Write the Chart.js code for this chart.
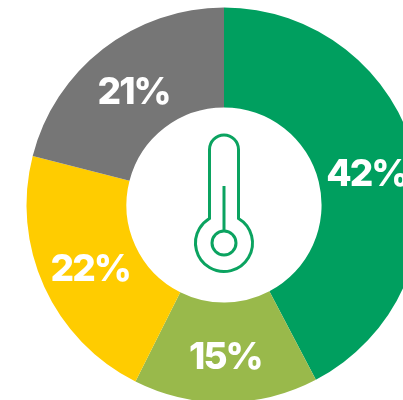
<!DOCTYPE html>
<html>
<head>
<meta charset="utf-8">
<style>
  html, body { margin: 0; padding: 0; background: #fff; overflow: hidden; }
  #wrap { width: 403px; height: 400px; overflow: hidden; }
</style>
</head>
<body>
<div id="wrap"><canvas id="donut" width="448" height="410"></canvas></div>
<script src="https://cdn.jsdelivr.net/npm/chart.js@4"></script>
<script>
const categories = ['A', 'B', 'C', 'D'];
// slice sizes, they round to the printed percents
const values = [42.3, 15.1, 21.6, 21];
const colors = ['#009F5F', '#99B94B', '#FFCC00', '#767676'];

// percent labels, nudged from the middle of each slice
const labelNudge = [[-0.5, 5], [0, 5], [0.5, 4], [0, 4.2]];

const percentLabels = {
    id: 'percentLabels',
    afterDatasetsDraw(chart) {
        const ctx = chart.ctx;
        const arcs = chart.getDatasetMeta(0).data;
        ctx.save();
        ctx.fillStyle = '#fff';
        ctx.font = '800 37px Inter';
        ctx.letterSpacing = '-2px';
        ctx.textAlign = 'center';
        ctx.textBaseline = 'middle';
        arcs.forEach((arc, i) => {
            const p = arc.getCenterPoint();
            ctx.fillText(Math.round(values[i]) + '%', p.x + labelNudge[i][0], p.y + labelNudge[i][1]);
        });
        ctx.restore();
    }
};

// thermometer icon in the hole
const thermometer = {
    id: 'thermometer',
    afterDatasetsDraw(chart) {
        const ctx = chart.ctx;
        const arc = chart.getDatasetMeta(0).data[0];
        ctx.save();
        ctx.strokeStyle = '#0BA360';
        ctx.lineWidth = 3;
        ctx.translate(arc.x, arc.y);

        const bulbY = 38, bulbR = 28.5, tubeR = 14.5, coreR = 12;
        const a = Math.asin(tubeR / bulbR);
        ctx.beginPath();
        ctx.arc(0, -55.5, tubeR, Math.PI, 0);
        ctx.arc(0, bulbY, bulbR, -Math.PI / 2 + a, -Math.PI / 2 - a);
        ctx.closePath();
        ctx.stroke();

        ctx.beginPath();
        ctx.arc(0, bulbY, coreR, 0, Math.PI * 2);
        ctx.stroke();

        ctx.beginPath();
        ctx.moveTo(0, -19);
        ctx.lineTo(0, bulbY - coreR);
        ctx.stroke();
        ctx.restore();
    }
};

new Chart(document.getElementById('donut').getContext('2d'), {
    type: 'doughnut',
    data: {
        labels: categories,
        datasets: [{
            data: values,
            backgroundColor: colors,
            borderWidth: 0,
            radius: 197.5,
            cutout: '49.4%'
        }]
    },
    options: {
        responsive: false,
        animation: false,
        layout: { padding: 0 },
        plugins: {
            legend: { display: false },
            tooltip: { enabled: false }
        }
    },
    plugins: [percentLabels, thermometer]
});
</script>
</body>
</html>
